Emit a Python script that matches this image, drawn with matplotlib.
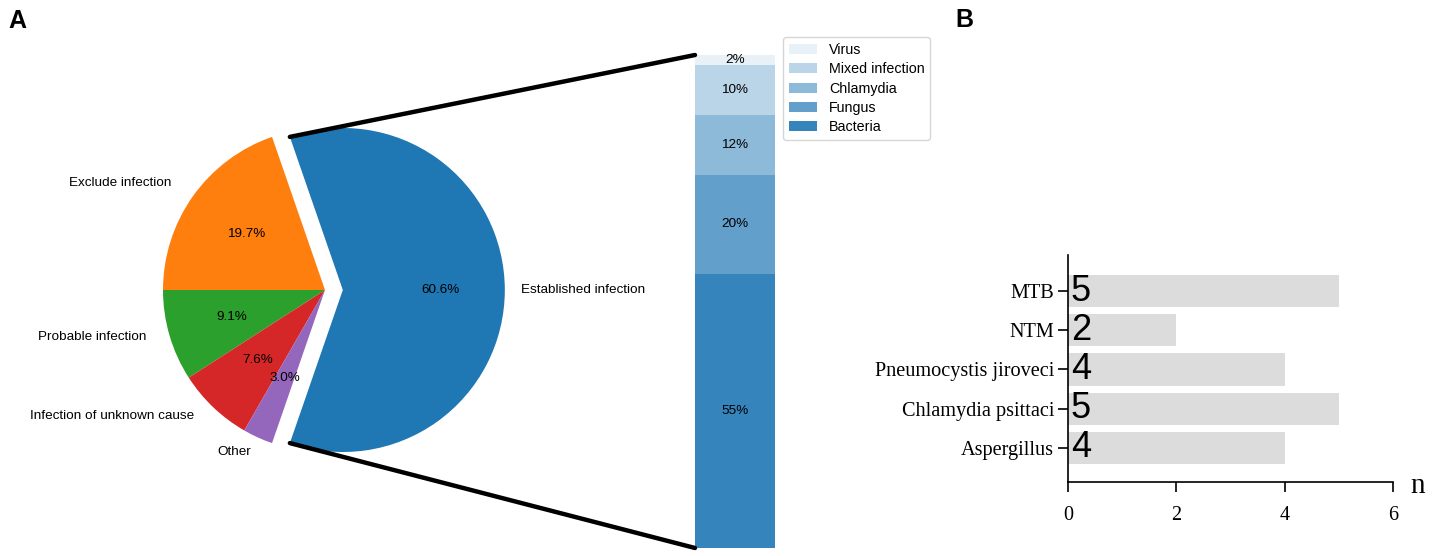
import numpy as np
import matplotlib
matplotlib.use("Agg")
import matplotlib.pyplot as plt
from matplotlib.patches import ConnectionPatch

plt.rcParams['font.family'] = ['Liberation Sans', 'DejaVu Sans']

# pie data (panel A)
pie_labels = ['Established infection', 'Exclude infection', 'Probable infection',
              'Infection of unknown cause', 'Other']
pie_values = [60.6, 19.7, 9.1, 7.6, 3.0]

# breakdown of established infection
cause_labels = ['Bacteria', 'Fungus', 'Chlamydia', 'Mixed infection', 'Virus']
cause_values = [55, 20, 12, 10, 2]

# panel B
pathogens = ['Aspergillus', 'Chlamydia psittaci', 'Pneumocystis jiroveci', 'NTM', 'MTB']
counts = [4, 5, 4, 2, 5]

W, H = 1434, 556
fig = plt.figure(figsize=(W / 100, H / 100), dpi=100)

def px(left, bottom, width, height):
    return [left / W, bottom / H, width / W, height / H]

# ---- pie ----
r = 162
ax1 = fig.add_axes(px(325 - 2.5 * r / 2, 266 - 2.5 * r / 2, 2.5 * r, 2.5 * r))
colors = ['#1f77b4', '#ff7f0e', '#2ca02c', '#d62728', '#9467bd']
explode = [0.11, 0, 0, 0, 0]
wedges, texts, autotexts = ax1.pie(pie_values, labels=pie_labels, colors=colors,
                                   explode=explode, autopct='%1.1f%%',
                                   startangle=-180 * pie_values[0] / 100,
                                   labeldistance=1.1, pctdistance=0.6,
                                   textprops={'fontsize': 9.7})
# left-hand labels sit a little further out in the original
for t in texts[1:4]:
    x, y = t.get_position()
    t.set_position((x - 0.05, y + 0.02))
ax1.set_xlim(-1.25, 1.25)
ax1.set_ylim(-1.25, 1.25)

# ---- stacked bar ----
ax2 = fig.add_axes(px(695, 8, 80, 493))
bottom = sum(cause_values)
for j, (h, lab) in enumerate(reversed(list(zip(cause_values, cause_labels)))):
    bottom -= h
    bc = ax2.bar(0, h, 1.0, bottom=bottom, color='C0', label=lab, alpha=0.1 + 0.2 * j)
    ax2.bar_label(bc, labels=[f"{h}%"], label_type='center', fontsize=9.7)
ax2.set_xlim(-0.5, 0.5)
ax2.set_ylim(0, sum(cause_values))
ax2.axis('off')
fig.legend(*ax2.get_legend_handles_labels(), loc='upper left',
           bbox_to_anchor=(783 / W, 1 - 37 / H), fontsize=10.3, borderaxespad=0,
           labelspacing=0.38)

# connecting lines
theta1, theta2 = wedges[0].theta1, wedges[0].theta2
center, rr = wedges[0].center, wedges[0].r
total = sum(cause_values)
for th, yb in [(theta2, total), (theta1, 0)]:
    x = rr * np.cos(np.pi / 180 * th) + center[0]
    y = rr * np.sin(np.pi / 180 * th) + center[1]
    con = ConnectionPatch(xyA=(-0.5, yb), coordsA=ax2.transData,
                          xyB=(x, y), coordsB=ax1.transData)
    con.set_color('black')
    con.set_linewidth(3.2)
    fig.add_artist(con)

# ---- panel B ----
ax3 = fig.add_axes(px(1068, 74, 325, 227))
ypos = np.arange(len(pathogens))
ax3.barh(ypos, counts, height=0.82, color='#dcdcdc')
for yv, c in zip(ypos, counts):
    ax3.text(0.05, yv, str(c), va='center', ha='left', fontsize=26,
             family='Liberation Sans')
ax3.set_xlim(0, 6)
ax3.set_ylim(-0.87, 4.92)
ax3.set_yticks(ypos)
ax3.set_yticklabels(pathogens)
ax3.set_xticks([0, 2, 4, 6])
for lab in ax3.get_xticklabels() + ax3.get_yticklabels():
    lab.set_family('Liberation Serif')
    lab.set_fontsize(14.6)
ax3.spines['top'].set_visible(False)
ax3.spines['right'].set_visible(False)
ax3.spines['left'].set_linewidth(1.2)
ax3.spines['bottom'].set_linewidth(1.2)
ax3.tick_params(length=7, width=1.2, pad=3)
ax3.tick_params(axis='x', pad=10)
fig.text(1410 / W, 63 / H, 'n', family='Liberation Serif', fontsize=21,
         ha='left', va='baseline')

fig.text(8 / W, 1 - 28 / H, 'A', fontsize=18, fontweight='bold', va='baseline')
fig.text(955 / W, 1 - 27 / H, 'B', fontsize=18, fontweight='bold', va='baseline')

fig.savefig('out.png', dpi=100)
